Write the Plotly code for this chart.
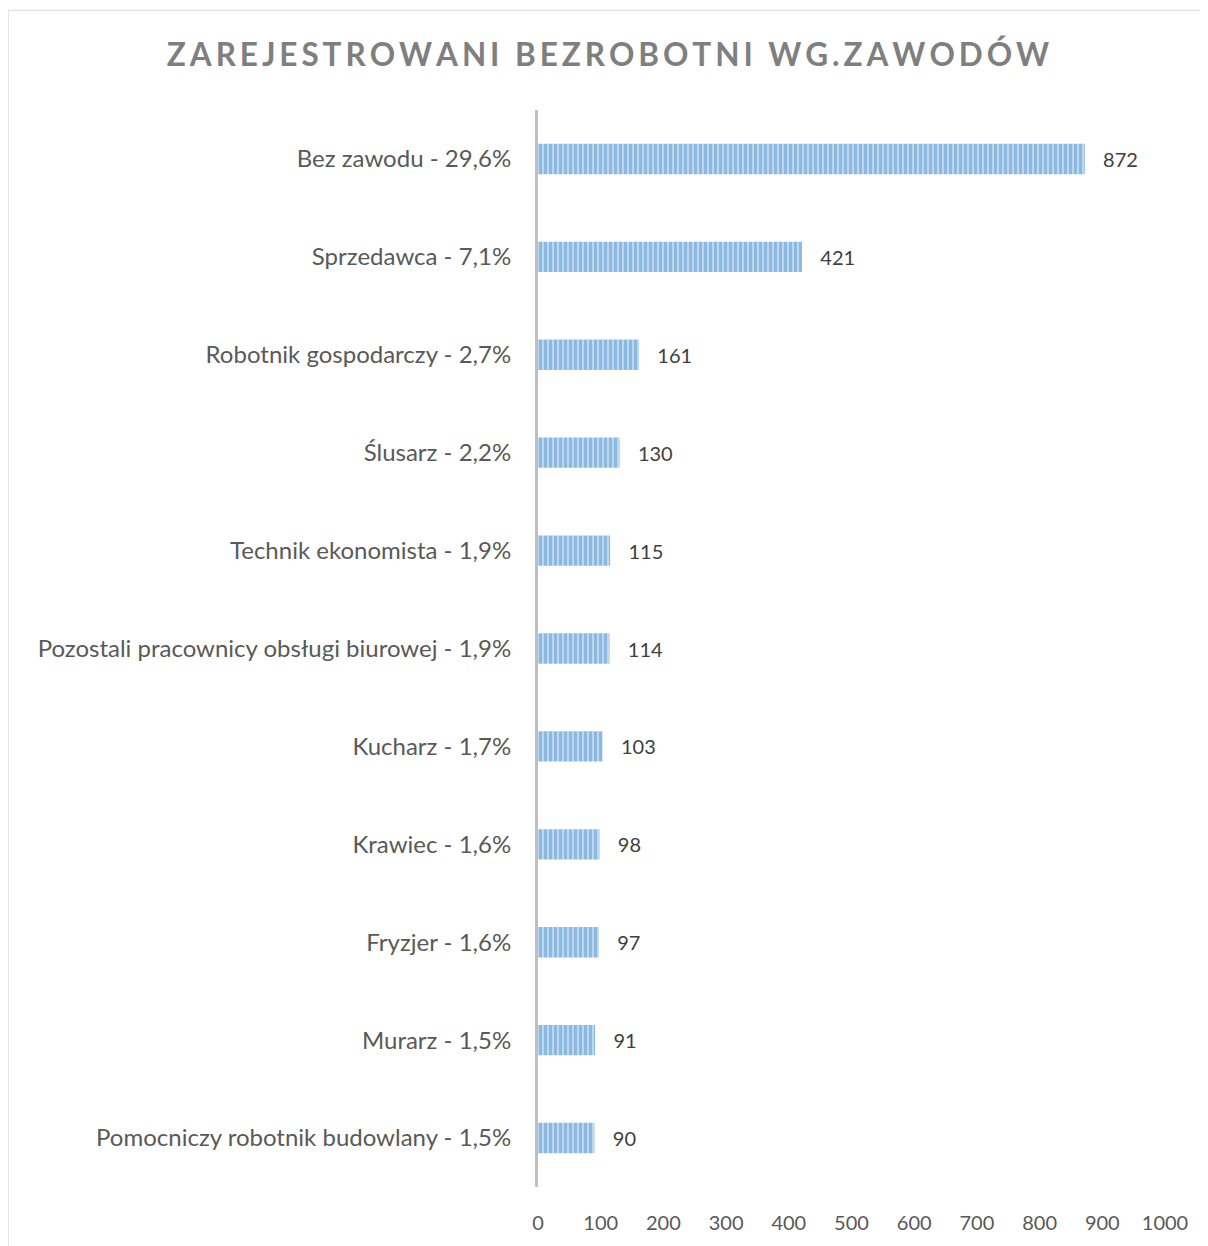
import plotly.graph_objects as go

# dane
zawody = [
    "Bez zawodu - 29,6%",
    "Sprzedawca - 7,1%",
    "Robotnik gospodarczy - 2,7%",
    "Ślusarz - 2,2%",
    "Technik ekonomista - 1,9%",
    "Pozostali pracownicy obsługi biurowej - 1,9%",
    "Kucharz - 1,7%",
    "Krawiec - 1,6%",
    "Fryzjer - 1,6%",
    "Murarz - 1,5%",
    "Pomocniczy robotnik budowlany - 1,5%",
]
liczba = [872, 421, 161, 130, 115, 114, 103, 98, 97, 91, 90]
x_ticks = [0, 100, 200, 300, 400, 500, 600, 700, 800, 900, 1000]

TITLE = "ZAREJESTROWANI BEZROBOTNI WG.ZAWODÓW"
FONT = "Lato"

fig = go.Figure()
fig.add_trace(
    go.Bar(
        x=liczba,
        y=zawody,
        orientation="h",
        width=0.31,
        marker=dict(
            color="#bdd7ee",
            line=dict(width=0),
            pattern=dict(shape="|", fgcolor="#5b9bd5", bgcolor="#bdd7ee", size=5, solidity=0.6),
        ),
        text=liczba,
        texttemplate="   %{text}",
        textposition="outside",
        textfont=dict(family=FONT, size=20, color="#404040"),
        cliponaxis=False,
        showlegend=False,
    )
)

spaced_title = "\u2009".join(TITLE)

# strona ma margines 8 px, więc figura jest odpowiednio mniejsza
fig.update_layout(
    width=1200,
    height=1238,
    paper_bgcolor="white",
    plot_bgcolor="white",
    margin=dict(l=530, r=43, t=102, b=56),
    title=dict(
        text=spaced_title,
        x=0.5,
        xanchor="center",
        y=0.962,
        yanchor="middle",
        font=dict(family=FONT, size=31.5, color="#7f7f7f", weight="bold"),
    ),
    xaxis=dict(
        range=[0, 1000],
        tickvals=x_ticks,
        showgrid=False,
        zeroline=False,
        showline=False,
        ticks="",
        ticklabelstandoff=22,
        tickfont=dict(family=FONT, size=20, color="#595959"),
    ),
    yaxis=dict(
        autorange="reversed",
        showgrid=False,
        zeroline=False,
        showline=True,
        linecolor="#bfbfbf",
        linewidth=3,
        ticks="",
        ticklabelstandoff=19,
        tickfont=dict(family=FONT, size=24, color="#595959"),
    ),
    shapes=[
        dict(
            type="rect",
            xref="paper",
            yref="paper",
            x0=-0.845,
            x1=1.2,
            y0=-0.2,
            y1=1.0926,
            line=dict(color="#d9d9d9", width=1),
            fillcolor="rgba(0,0,0,0)",
            layer="below",
        )
    ],
)

fig.write_html("out.html")
